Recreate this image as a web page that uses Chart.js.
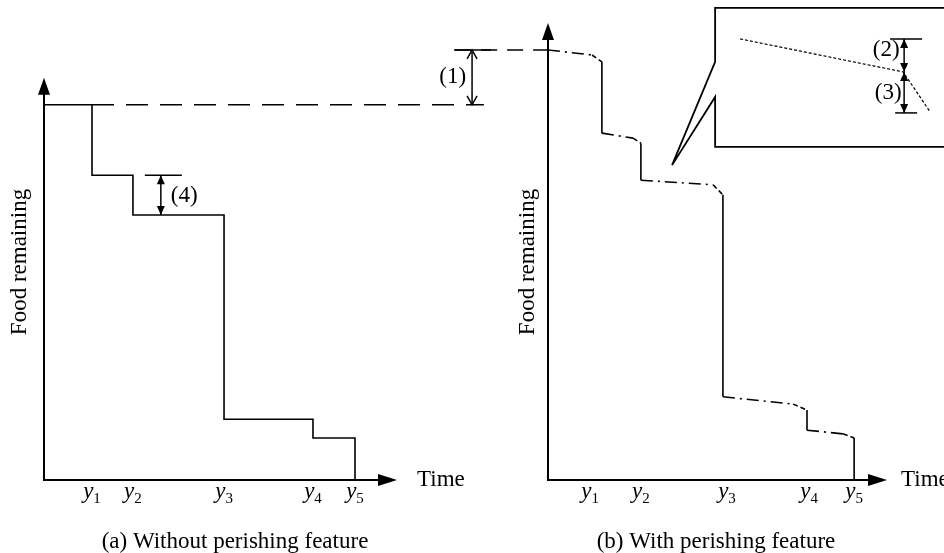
<!DOCTYPE html>
<html>
<head>
<meta charset="utf-8">
<script src="https://cdn.jsdelivr.net/npm/chart.js@4/dist/chart.umd.min.js"></script>
<style>
  html, body { margin: 0; padding: 0; background: #fff; }
  #wrap { position: relative; width: 944px; height: 553px; overflow: hidden; }
  canvas { position: absolute; top: 0; }
  #left { left: 0; }
  #right { left: 400px; }
</style>
</head>
<body>
<div id="wrap">
  <canvas id="left" width="500" height="553"></canvas>
  <canvas id="right" width="544" height="553"></canvas>
</div>
<script>
// Time axis runs 0..100, food axis 0..100 (same food scale in both panels)
const tickLabels = ['y1', 'y2', 'y3', 'y4', 'y5'];

// (a) without perishing: plain step function
const leftTimes = [13.6, 25.2, 51.0, 76.2, 88.1];
const leftStart = 82.1;
const leftAfterDrops = [66.7, 58.0, 13.3, 9.2, 0];
const leftTickPos = [13.6, 25.2, 51.0, 76.2, 88.1];
const leftRefEnd = 124.6;     // dashed reference level reaches across to panel (b)

// (b) with perishing: each plateau decays slowly, then a bit faster before the drop
const rightTimes = [15.9, 27.4, 51.6, 76.4, 90.3];
const rightLevelStart = [94.1, 75.9, 65.6, 18.2, 10.9];
const rightKneeTime = [13.0, 25.1, 48.7, 72.3, 87.0];
const rightKneeFood = [93.0, 74.8, 64.6, 16.6, 10.1];
const rightLevelEnd = [91.5, 73.7, 62.4, 15.3, 9.2];
const rightTickPos = [12.4, 27.4, 52.8, 77.0, 90.3];
const rightLeadIn = -27.4;

const INK = '#000';
const FONT = '"Liberation Serif", "DejaVu Serif", serif';
const FS = 23;

function tri(ctx, tx, ty, dx, dy, len, half) {
    const bx = tx - dx * len, by = ty - dy * len;
    ctx.beginPath();
    ctx.moveTo(tx, ty);
    ctx.lineTo(bx - dy * half, by + dx * half);
    ctx.lineTo(bx + dy * half, by - dx * half);
    ctx.closePath();
    ctx.fill();
}

function vee(ctx, tx, ty, dy) {
    ctx.beginPath();
    ctx.moveTo(tx - 5, ty - dy * 9);
    ctx.lineTo(tx, ty);
    ctx.lineTo(tx + 5, ty - dy * 9);
    ctx.stroke();
}

function dimArrow(ctx, x, top, bottom, filled) {
    ctx.beginPath();
    ctx.moveTo(x, top);
    ctx.lineTo(x, bottom);
    ctx.stroke();
    if (filled) {
        tri(ctx, x, top, 0, -1, 9, 4);
        tri(ctx, x, bottom, 0, 1, 9, 4);
    } else {
        vee(ctx, x, top, -1);
        vee(ctx, x, bottom, 1);
    }
}

function hline(ctx, x1, x2, y) {
    ctx.beginPath();
    ctx.moveTo(x1, y);
    ctx.lineTo(x2, y);
    ctx.stroke();
}

function label(ctx, text, x, y, align) {
    ctx.font = `${FS}px ${FONT}`;
    ctx.textAlign = align || 'center';
    ctx.textBaseline = 'middle';
    ctx.fillText(text, x, y);
}

// axes with arrows, titles, y_i tick labels, caption
const axesPlugin = {
    id: 'axesPlugin',
    afterDatasetsDraw(chart) {
        const o = chart.options.plugins.axesPlugin;
        const { ctx, scales: { x, y } } = chart;
        const x0 = x.getPixelForValue(0), y0 = y.getPixelForValue(0);
        const xEnd = x.getPixelForValue(100), yTop = y.getPixelForValue(o.axisTop);
        ctx.save();
        ctx.strokeStyle = INK;
        ctx.fillStyle = INK;
        ctx.lineWidth = 2;
        ctx.beginPath();
        ctx.moveTo(x0, yTop + 12);
        ctx.lineTo(x0, y0);
        ctx.lineTo(xEnd - 12, y0);
        ctx.stroke();
        tri(ctx, x0, yTop, 0, -1, 17, 6);
        tri(ctx, xEnd, y0, 1, 0, 19, 6);

        label(ctx, 'Time', xEnd + o.timeGap, y0, 'left');

        o.ticks.forEach((t, i) => {
            const px = x.getPixelForValue(t);
            ctx.font = `italic ${FS}px ${FONT}`;
            const w1 = ctx.measureText('y').width;
            ctx.font = `15px ${FONT}`;
            const w2 = ctx.measureText(tickLabels[i].slice(1)).width;
            const sx = px - (w1 + w2) / 2;
            ctx.textAlign = 'left';
            ctx.textBaseline = 'alphabetic';
            ctx.font = `italic ${FS}px ${FONT}`;
            ctx.fillText(tickLabels[i][0], sx, 498);
            ctx.font = `15px ${FONT}`;
            ctx.fillText(tickLabels[i].slice(1), sx + w1, 503);
        });

        ctx.save();
        ctx.translate(x0 + o.titleOffset, 262);
        ctx.rotate(-Math.PI / 2);
        label(ctx, 'Food remaining', 0, 0);
        ctx.restore();

        label(ctx, o.caption, o.captionX, 542);
        ctx.restore();
    }
};

// dimension (4) in panel (a)
const leftNotes = {
    id: 'leftNotes',
    afterDatasetsDraw(chart) {
        const { ctx, scales: { x, y } } = chart;
        const ax = x.getPixelForValue(33.1);
        const top = y.getPixelForValue(leftAfterDrops[0]);
        const bottom = y.getPixelForValue(leftAfterDrops[1]);
        ctx.save();
        ctx.strokeStyle = INK;
        ctx.fillStyle = INK;
        ctx.lineWidth = 1.5;
        hline(ctx, ax - 16, ax + 21, top);
        dimArrow(ctx, ax, top, bottom, true);
        label(ctx, '(4)', ax + 10, (top + bottom) / 2 + 1, 'left');
        ctx.restore();
    }
};

// dimension (1) and the zoom-in callout with (2), (3) in panel (b)
const rightNotes = {
    id: 'rightNotes',
    afterDatasetsDraw(chart) {
        const { ctx, scales: { x, y } } = chart;
        ctx.save();
        ctx.strokeStyle = INK;
        ctx.fillStyle = INK;
        ctx.lineWidth = 1.5;

        const ax = x.getPixelForValue(-22.4);
        const top = y.getPixelForValue(rightLevelStart[0]);
        const bottom = y.getPixelForValue(leftStart);
        hline(ctx, ax - 18, ax + 19, top);
        dimArrow(ctx, ax, top, bottom, false);
        label(ctx, '(1)', ax - 6, (top + bottom) / 2, 'right');

        const bx = x.getPixelForValue(49.3);
        const by = y.getPixelForValue(103.3);
        const bb = y.getPixelForValue(72.9);
        const tipX = x.getPixelForValue(36.6), tipY = y.getPixelForValue(68.9);
        const far = chart.width + 5;
        ctx.lineWidth = 1.8;
        ctx.beginPath();
        ctx.moveTo(far, by);
        ctx.lineTo(bx, by);
        ctx.lineTo(bx, by + 54);
        ctx.lineTo(tipX, tipY);
        ctx.lineTo(bx, by + 89);
        ctx.lineTo(bx, bb);
        ctx.lineTo(far, bb);
        ctx.stroke();

        ctx.lineWidth = 1.2;
        ctx.setLineDash([3, 2]);
        ctx.beginPath();
        ctx.moveTo(bx + 25, by + 31);
        ctx.lineTo(bx + 188, by + 64);
        ctx.lineTo(bx + 215, by + 104);
        ctx.stroke();
        ctx.setLineDash([]);

        ctx.lineWidth = 1.5;
        hline(ctx, bx + 175, bx + 207, by + 31);
        dimArrow(ctx, bx + 189, by + 31, by + 64, true);
        hline(ctx, bx + 180, bx + 202, by + 105);
        dimArrow(ctx, bx + 189, by + 64, by + 105, true);
        label(ctx, '(2)', bx + 171, by + 42);
        label(ctx, '(3)', bx + 173, by + 85);
        ctx.restore();
    }
};

function baseOptions(padding, axis) {
    return {
        responsive: false,
        animation: false,
        layout: { padding },
        scales: {
            x: { type: 'linear', min: 0, max: 100, display: false },
            y: { type: 'linear', min: 0, max: 100, display: false }
        },
        elements: { point: { radius: 0 } },
        plugins: {
            legend: { display: false },
            tooltip: { enabled: false },
            axesPlugin: axis
        }
    };
}

// panel (a)
const leftSteps = [{ x: 0, y: leftStart }]
    .concat(leftTimes.map((t, i) => ({ x: t, y: leftAfterDrops[i] })));

new Chart(document.getElementById('left'), {
    type: 'line',
    data: {
        datasets: [
            {
                data: leftSteps,
                stepped: 'before',
                borderColor: INK,
                borderWidth: 1.6,
                fill: false
            },
            {
                data: [{ x: leftTimes[0], y: leftStart }, { x: leftRefEnd, y: leftStart }],
                borderColor: INK,
                borderWidth: 1.4,
                borderDash: [22, 12],
                clip: false,
                fill: false
            }
        ]
    },
    options: baseOptions({ left: 44, right: 103, top: 23, bottom: 73 }, {
        axisTop: 88.0,
        timeGap: 20,
        ticks: leftTickPos,
        titleOffset: -24,
        caption: '(a) Without perishing feature',
        captionX: 235
    }),
    plugins: [axesPlugin, leftNotes]
});

// panel (b): plateau start, knee, end of plateau, then vertical drop
const rightPts = [];
let plateauStart = 0;
rightTimes.forEach((t, i) => {
    rightPts.push({ x: plateauStart, y: rightLevelStart[i] });
    rightPts.push({ x: rightKneeTime[i], y: rightKneeFood[i] });
    rightPts.push({ x: t, y: rightLevelEnd[i] });
    plateauStart = t;
});
rightPts.push({ x: rightTimes[rightTimes.length - 1], y: 0 });

new Chart(document.getElementById('right'), {
    type: 'line',
    data: {
        datasets: [
            {
                data: rightPts,
                borderColor: INK,
                borderWidth: 1.6,
                fill: false,
                segment: {
                    borderDash: c => {
                        const k = c.p0DataIndex % 3;
                        if (k === 0) return [12, 5, 2, 5];
                        if (k === 1) return [5, 3];
                        return [];
                    }
                }
            },
            {
                data: [{ x: rightLeadIn, y: rightLevelStart[0] }, { x: 0, y: rightLevelStart[0] }],
                borderColor: INK,
                borderWidth: 1.4,
                borderDash: [16, 10],
                clip: false,
                fill: false
            }
        ]
    },
    options: baseOptions({ left: 148, right: 57, top: 23, bottom: 73 }, {
        axisTop: 100,
        timeGap: 14,
        ticks: rightTickPos,
        titleOffset: -20,
        caption: '(b) With perishing feature',
        captionX: 316
    }),
    plugins: [axesPlugin, rightNotes]
});
</script>
</body>
</html>
